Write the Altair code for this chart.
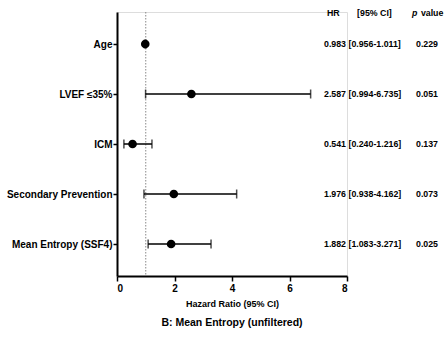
import altair as alt
import pandas as pd

labels = ["Age", "LVEF ≤35%", "ICM", "Secondary Prevention", "Mean Entropy (SSF4)"]
hr = [0.983, 2.587, 0.541, 1.976, 1.882]
lo = [0.956, 0.994, 0.240, 0.938, 1.083]
hi = [1.011, 6.735, 1.216, 4.162, 3.271]
pvals = ["0.229", "0.051", "0.137", "0.073", "0.025"]
x_ticks = [0, 2, 4, 6, 8]

df = pd.DataFrame({"label": labels, "hr": hr, "lo": lo, "hi": hi, "p": pvals})
df["txt"] = [f"{h:.3f} [{l:.3f}-{u:.3f}]" for h, l, u in zip(hr, lo, hi)]
df["tx"] = 7.2
df["px"] = 10.4

FONT = "Liberation Sans"
TS = 8.8

yenc = alt.Y("label:N", sort=labels, scale=alt.Scale(type="point", padding=0.64),
             axis=alt.Axis(title=None, labelFont=FONT, labelFontWeight="bold", labelFontSize=10,
                           labelColor="black", domainColor="black", domainWidth=2,
                           tickColor="black", tickWidth=1.5, tickSize=4, labelPadding=1, grid=False))
xscale = alt.Scale(domain=[0, 8], nice=False)
xenc = alt.X("hr:Q", scale=xscale,
             axis=alt.Axis(values=x_ticks, title="Hazard Ratio (95% CI)", titleFont=FONT,
                           titleFontSize=9, titleFontWeight="bold", titleColor="black", titlePadding=6,
                           labelFont=FONT, labelFontWeight="bold", labelFontSize=10, labelColor="black",
                           domainColor="black", domainWidth=2, tickColor="black", tickWidth=1.5,
                           tickSize=5, grid=False, format="d"))

base = alt.Chart(df)

ref = alt.Chart(pd.DataFrame({"v": [1]})).mark_rule(color="#888888", strokeDash=[1.5, 1.5], strokeWidth=1).encode(
    x=alt.X("v:Q", scale=xscale))

bars = base.mark_rule(color="black", strokeWidth=1.5).encode(
    x=alt.X("lo:Q", scale=xscale), x2="hi:Q", y=yenc)
cap_lo = base.mark_tick(color="black", thickness=1.5, size=9, orient="vertical").encode(
    x=alt.X("lo:Q", scale=xscale), y=alt.Y("label:N", sort=labels))
cap_hi = base.mark_tick(color="black", thickness=1.5, size=9, orient="vertical").encode(
    x=alt.X("hi:Q", scale=xscale), y=alt.Y("label:N", sort=labels))
pts = base.mark_point(filled=True, color="black", opacity=1, size=75, shape="circle").encode(
    x=xenc, y=alt.Y("label:N", sort=labels))

txt = base.mark_text(align="left", baseline="middle", font=FONT, fontWeight="bold", fontSize=TS,
                     color="black").encode(x=alt.X("tx:Q", scale=xscale), y=alt.Y("label:N", sort=labels),
                                          text="txt:N")
ptxt = base.mark_text(align="left", baseline="middle", font=FONT, fontWeight="bold", fontSize=TS,
                      color="black").encode(x=alt.X("px:Q", scale=xscale), y=alt.Y("label:N", sort=labels),
                                           text="p:N")

hdr = pd.DataFrame({"t": ["HR", "[95% CI]", "value"], "x": [7.30, 8.35, 10.57]})
header = alt.Chart(hdr).mark_text(align="left", baseline="middle", font=FONT, fontWeight="bold",
                                  fontSize=TS, color="black").encode(
    x=alt.X("x:Q", scale=xscale), y=alt.value(1), text="t:N")
hp = alt.Chart(pd.DataFrame({"t": ["p"], "x": [10.26]})).mark_text(
    align="left", baseline="middle", font=FONT, fontWeight="bold", fontStyle="italic",
    fontSize=TS, color="black").encode(x=alt.X("x:Q", scale=xscale), y=alt.value(1), text="t:N")

chart = alt.layer(ref, bars, cap_lo, cap_hi, pts, txt, ptxt, header, hp).properties(
    width=230, height=264,
    title=alt.TitleParams("B: Mean Entropy (unfiltered)", orient="bottom", anchor="middle",
                          font=FONT, fontSize=10.5, fontWeight="bold", color="black", offset=10),
    autosize=alt.AutoSizeParams(type="none"),
    padding={"left": 117, "top": 12, "right": 99, "bottom": 62},
).configure_view(stroke=None).configure(background="white")

chart.save("out.html", embed_options={"renderer": "svg", "actions": False})
